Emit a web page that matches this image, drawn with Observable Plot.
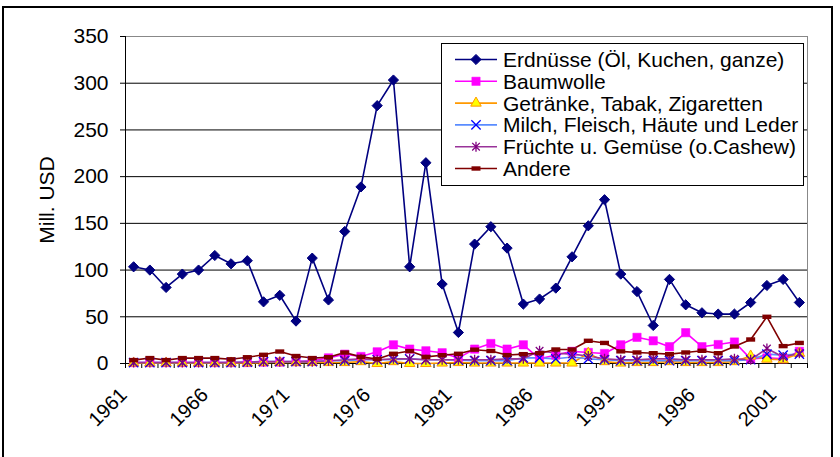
<!DOCTYPE html>
<html><head><meta charset="utf-8">
<script src="https://cdn.jsdelivr.net/npm/d3@7"></script>
<script src="https://cdn.jsdelivr.net/npm/@observablehq/plot@0.6"></script>
<style>
html,body{margin:0;padding:0;background:#fff;}
#wrap{position:relative;width:840px;height:457px;overflow:hidden;font-family:"Liberation Sans",Arial,sans-serif;}
#chart{position:absolute;left:0;top:0;}
#frame{position:absolute;left:2px;top:6px;width:831px;height:480px;border:2px solid #000;box-sizing:border-box;pointer-events:none;}
#legend{position:absolute;left:441px;top:43px;}
</style></head><body><div id="wrap"><div id="chart"></div><div id="frame"></div><svg id="legend" width="364" height="144"></svg></div>
<script>
const years = [1961,1962,1963,1964,1965,1966,1967,1968,1969,1970,
  1971,1972,1973,1974,1975,1976,1977,1978,1979,1980,
  1981,1982,1983,1984,1985,1986,1987,1988,1989,1990,
  1991,1992,1993,1994,1995,1996,1997,1998,1999,2000,
  2001,2002];
const erdnuesse = [103.5,100,81.4,95.7,100,115.6,106.7,110,66,73,
  45.4,112.8,68,141.3,189,276,303.4,103.5,214.9,85,
  33.2,127.8,146.4,123.5,63.6,69,80.7,114.2,147.4,175.3,
  95.7,77,40.7,90,62.8,54.3,52.9,52.9,65.3,83.5,
  90,65.3];
const baumwolle = [1,1,1,1,1,1,1,1,1.5,1.5,
  2,3,6,10,7.5,12.5,20,15.4,13.6,11.5,
  6,15.4,21.4,15.4,20,5,9,13,11.8,10.7,
  20,28,24.3,18,33,18,20.3,23,5,6,
  5,13];
const getraenke = [0.5,0.5,0.5,0.5,0.5,0.5,0.5,0.5,1,1,
  1,1,1,1,2,0,2,0,0,0.5,
  1,0.5,0.5,0.5,0.5,0.5,0.5,0.5,11,2,
  0.5,1,1,2,1,1,1,2,8,4.7,
  4,11];
const milch = [1,1,1,1,1,1,1,1.5,2,2,
  2,2,3,3,4,4,4,5,4,4,
  3.6,3,3,3,6,6,5,7,5,4,
  3,3,3,3,3,3,3,3,4,10,
  9,10];
const fruechte = [1,1,1,1,1,1,1,1.5,2,2,
  2,2,3,4,5,4,5,5,4,4,
  4,4,4,5,5,13.6,11,10,8,5,
  4,4,5,5,4,4,4,5,4,16,
  7,11];
const andere = [3.6,5.8,3.6,5.8,5.8,5.8,4.5,6.7,9.3,12.8,
  8,5.8,6.7,11.7,7.1,4.8,10.4,13.3,7.1,8.9,
  10.4,14.8,13.4,9,10,11,15,15,24.3,22,
  13,11.8,11,10,11.8,13.6,11,18.2,25.7,50,
  18.6,22];
const seriesNames = ["Erdnüsse (Öl, Kuchen, ganze)","Baumwolle","Getränke, Tabak, Zigaretten",
  "Milch, Fleisch, Häute und Leder","Früchte u. Gemüse (o.Cashew)","Andere"];
const xTickLabels = [1961,1966,1971,1976,1981,1986,1991,1996,2001];
const yTicks = [0,50,100,150,200,250,300,350];

// custom symbols
const starSym = {draw(ctx, size){ const a = 3.8, b = 5; ctx.moveTo(-a,-a); ctx.lineTo(a,a); ctx.moveTo(-a,a); ctx.lineTo(a,-a); ctx.moveTo(0,-b); ctx.lineTo(0,b);} };
const dashSym = {draw(ctx, size){ ctx.rect(-4.5,-2.2,9,4.4);} };

const styles = [
  {values: erdnuesse, line:"#000080", symbol:"diamond2", fill:"#000080", stroke:"#000080", r:4.6, sw:1},
  {values: baumwolle, line:"#FF00FF", symbol:"square", fill:"#FF00FF", stroke:"#FF00FF", r:4.7, sw:0.5},
  {values: getraenke, line:"#FF9900", symbol:"triangle", fill:"#FFFF00", stroke:"#FF9900", r:3.9, sw:1},
  {values: milch, line:"#5A8CFF", symbol:"times", fill:"none", stroke:"#0000FF", r:4.3, sw:1.3},
  {values: fruechte, line:"#993399", symbol:starSym, fill:"none", stroke:"#800080", r:4, sw:1.3},
  {values: andere, line:"#800000", symbol:dashSym, fill:"#800000", stroke:"#800000", r:4, sw:0}
];

const rows = (vals) => years.map((y,i) => ({year:y, value:vals[i]}));
const boundaries = years.map(y => y - 0.5).concat([years[years.length-1] + 0.5]);

const seriesMarks = [];
styles.forEach(s => {
  seriesMarks.push(Plot.line(rows(s.values), {x:"year", y:"value", stroke:s.line, strokeWidth:1.6}));
});
styles.forEach(s => {
  seriesMarks.push(Plot.dot(rows(s.values), {x:"year", y:"value", symbol:()=>s.symbol, r:s.r, fill:s.fill, stroke:s.stroke, strokeWidth:s.sw}));
});

const chart = Plot.plot({
  width: 840, height: 457,
  marginLeft: 125, marginRight: 33, marginTop: 36, marginBottom: 94,
  style: {fontFamily: "Liberation Sans, Arial, sans-serif", fontSize: "20px", background: "transparent", color:"#000"},
  x: {type: "linear", domain: [boundaries[0], boundaries[boundaries.length-1]]},
  y: {domain: [0, 350]},
  symbol: {type: "identity"},
  marks: [
    Plot.ruleY(yTicks.filter(d => d > 0 && d < 350), {stroke: "#000", strokeWidth: 1}),
    Plot.frame({stroke: "#888"}),
    Plot.ruleX([boundaries[0]], {stroke: "#000"}),
    Plot.ruleY([0], {stroke: "#000"}),
    Plot.axisY({ticks: yTicks, tickSize: 5, tickPadding: 12, label: null, fontSize: 21, stroke:"#000"}),
    Plot.axisX({ticks: boundaries, tickSize: 5, tickFormat: () => "", label: null, stroke:"#000"}),
    Plot.axisX({ticks: xTickLabels, tickSize: 0, tickRotate: -45, tickPadding: 19, tickFormat: d => String(d), label: null, fontSize: 20, dx: -10, dy: 9}),
    Plot.text(["Mill. USD"], {frameAnchor: "left", textAnchor: "middle", dx: -78, rotate: -90, fontSize: 21, text: d => d}),
    ...seriesMarks
  ]
});
document.getElementById("chart").appendChild(chart);

// legend
const lg = d3.select("#legend");
lg.append("rect").attr("x",0.5).attr("y",0.5).attr("width",362).attr("height",142).attr("fill","#fff").attr("stroke","#000");
const symMap = {diamond2:d3.symbolDiamond2, square:d3.symbolSquare, triangle:d3.symbolTriangle, times:d3.symbolTimes};
styles.forEach((s,i) => {
  const y = 16.5 + i*21.8;
  lg.append("line").attr("x1",14).attr("x2",56).attr("y1",y).attr("y2",y).attr("stroke",s.line).attr("stroke-width",1.6);
  const type = typeof s.symbol === "string" ? symMap[s.symbol] : s.symbol;
  lg.append("path").attr("d", d3.symbol(type, Math.PI*s.r*s.r)()).attr("transform",`translate(35,${y})`)
    .attr("fill",s.fill).attr("stroke",s.stroke).attr("stroke-width",s.sw);
  lg.append("text").attr("x",62).attr("y",y).attr("dy","0.36em").attr("font-size",21)
    .attr("font-family","Liberation Sans, Arial, sans-serif").text(seriesNames[i]);
});
</script></body></html>
